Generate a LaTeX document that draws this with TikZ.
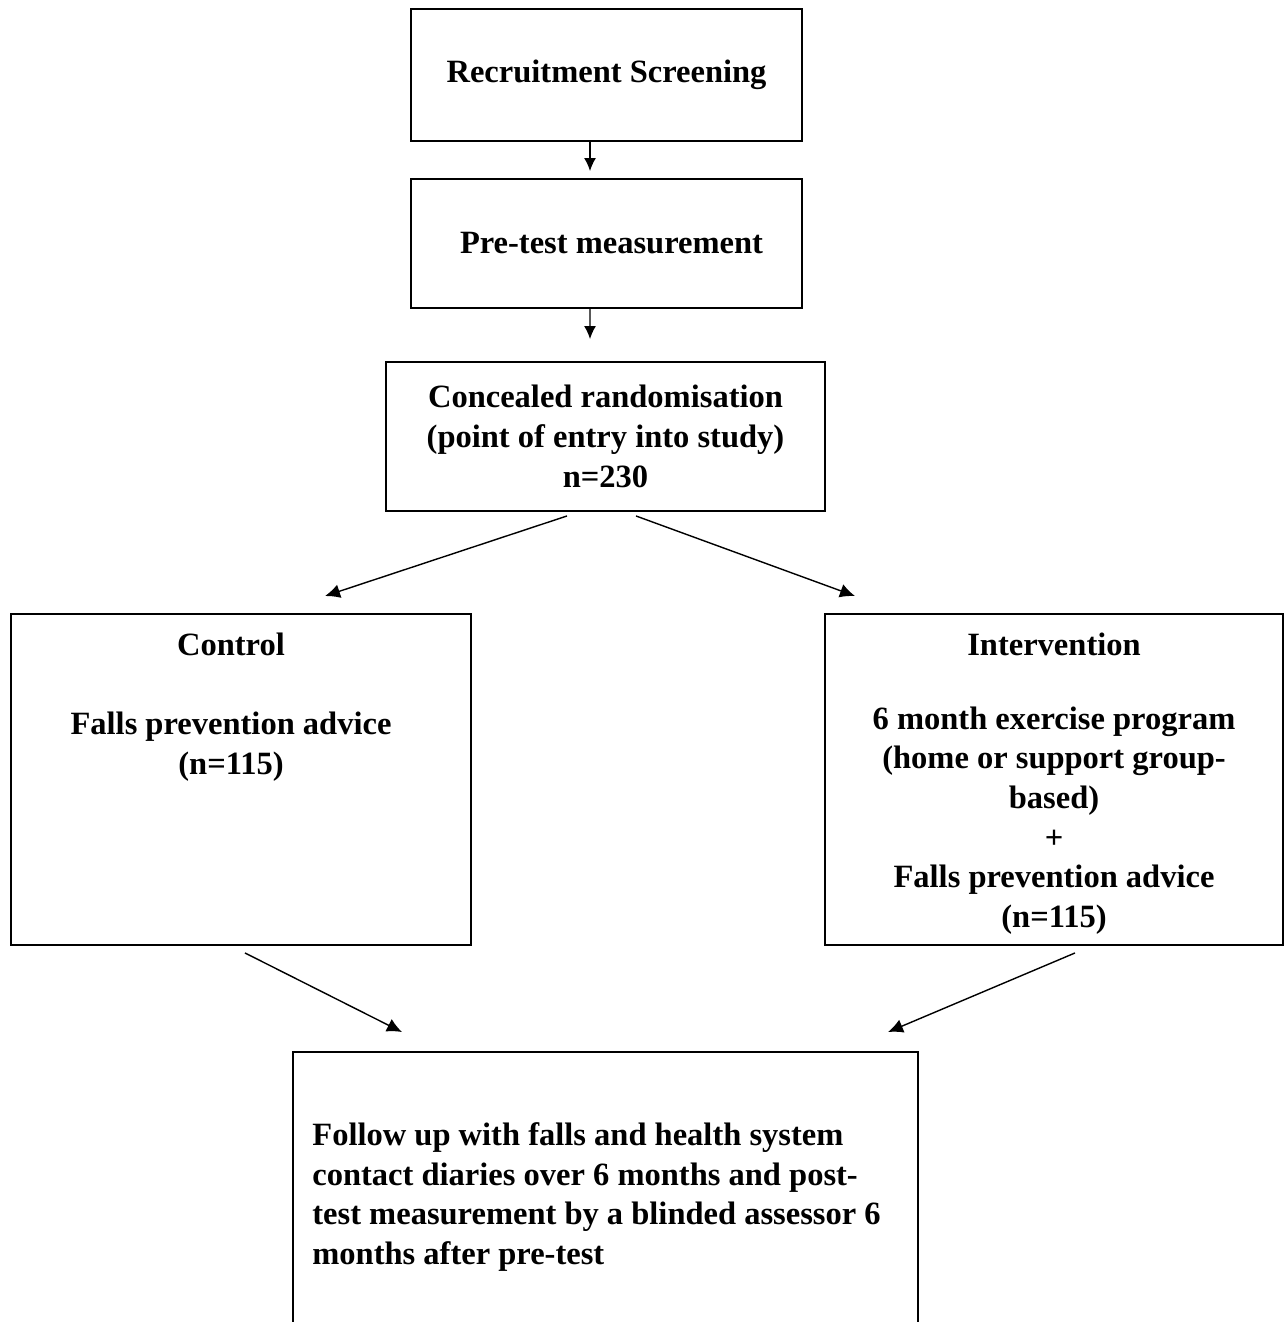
\documentclass[tikz,border=0pt]{standalone}
\usepackage{fontspec}
\setmainfont{Liberation Serif}
\usetikzlibrary{arrows,arrows.meta,positioning,calc}
\tikzset{
    block/.style = {draw, rectangle, line width=1.1pt, inner sep=0pt,
        font=\fontsize{18.5}{22.6}\selectfont\bfseries, align=center},
    txt/.style = {inner sep=0pt, font=\fontsize{18.5}{22.6}\selectfont\bfseries},
    arrow/.style={draw, -{Latex[length=0.30cm,width=0.28cm]}, line width=0.8pt},
    sarrow/.style={draw, -{Latex[length=0.26cm,width=0.24cm]}, line width=0.8pt}
}

\begin{document}
\begin{tikzpicture}
            \useasboundingbox (0,0) rectangle (25.66,-26.44);
            % top row of boxes
            \node[block, minimum width=7.82cm, minimum height=2.64cm] (recruit) at (12.13,-1.50) {Recruitment Screening};
            \node[block, minimum width=7.82cm, minimum height=2.58cm] (pretest) at (12.13,-4.87) {\hspace{0.2cm}Pre-test measurement};
            \node[block, minimum width=8.78cm, minimum height=2.98cm] (random) at (12.11,-8.73) {Concealed randomisation\\(point of entry into study)\\n=230};
            % the two arms
            \node[block, minimum width=9.20cm, minimum height=6.62cm] (control) at (4.82,-15.59) {};
            \node[txt, align=center, anchor=north] (controltxt) at ($(control.north)+(-0.2,-0.40)$) {Control\\[22pt]Falls prevention advice\\(n=115)};
            \node[block, minimum width=9.16cm, minimum height=6.62cm] (interv) at (21.08,-15.59) {};
            \node[txt, align=center, anchor=north] (intervtxt) at ($(interv.north)+(0,-0.40)$) {Intervention\\[19pt]6 month exercise program\\(home or support group-\\based)\\+\\Falls prevention advice\\(n=115)};
            % follow up
            \node[block, minimum width=12.50cm, minimum height=6.20cm] (follow) at (12.11,-24.14) {};
            \node[txt, align=left, anchor=north west] (followtxt) at ($(follow.north west)+(0.40,-1.42)$) {Follow up with falls and health system\\contact diaries over 6 months and post-\\test measurement by a blinded assessor 6\\months after pre-test};
            % connectors
            \draw[sarrow] ([xshift=-0.33cm]recruit.south) -- ([xshift=-0.33cm,yshift=0.14cm]pretest.north);
            \draw[sarrow] ([xshift=-0.33cm]pretest.south) -- ([xshift=-0.31cm,yshift=0.44cm]random.north);
            \draw[arrow] ([xshift=-0.77cm,yshift=-0.08cm]random.south) -- ([xshift=1.68cm,yshift=0.34cm]control.north);
            \draw[arrow] ([xshift=0.61cm,yshift=-0.08cm]random.south) -- ([xshift=-3.98cm,yshift=0.34cm]interv.north);
            \draw[arrow] ([xshift=0.08cm,yshift=-0.14cm]control.south) -- ([xshift=-4.07cm,yshift=0.38cm]follow.north);
            \draw[arrow] ([xshift=0.42cm,yshift=-0.14cm]interv.south) -- ([xshift=5.65cm,yshift=0.38cm]follow.north);
            \end{tikzpicture}
\end{document}
